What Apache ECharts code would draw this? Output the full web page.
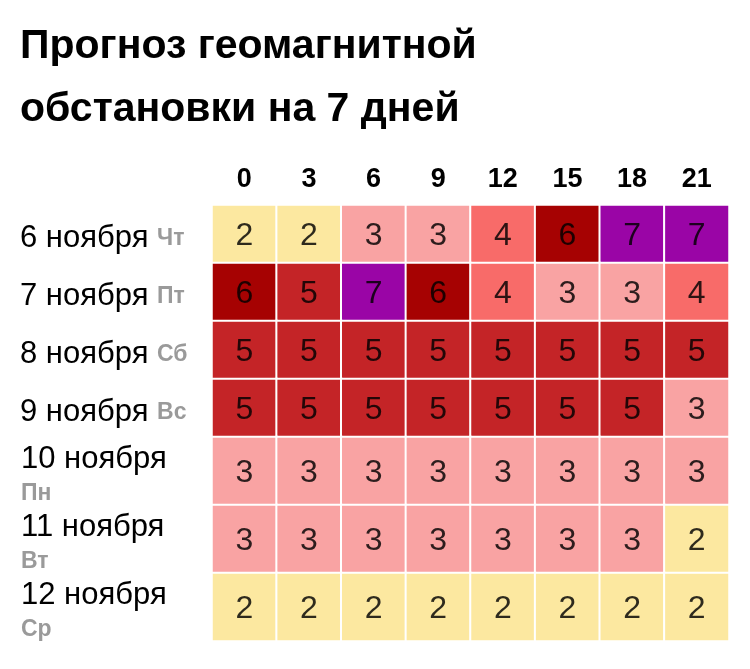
<!DOCTYPE html>
<html><head><meta charset="utf-8">
<script src="https://cdn.jsdelivr.net/npm/echarts@6/dist/echarts.min.js"></script>
<style>html,body{margin:0;padding:0;background:#fff}#c{width:750px;height:669px}</style>
</head><body><div id="c"></div>
<script>
const titleLines = ['Прогноз геомагнитной', 'обстановки на 7 дней'];
const hours = ['0', '3', '6', '9', '12', '15', '18', '21'];
const daysTop = ['6 ноября', '7 ноября', '8 ноября', '9 ноября'];
const weekdaysTop = ['Чт', 'Пт', 'Сб', 'Вс'];
const daysBottom = ['10 ноября', '11 ноября', '12 ноября'];
const weekdaysBottom = ['Пн', 'Вт', 'Ср'];
const row6 = [2, 2, 3, 3, 4, 6, 7, 7];
const row7 = [6, 5, 7, 6, 4, 3, 3, 4];
const row8 = [5, 5, 5, 5, 5, 5, 5, 5];
const row9 = [5, 5, 5, 5, 5, 5, 5, 3];
const row10 = [3, 3, 3, 3, 3, 3, 3, 3];
const row11 = [3, 3, 3, 3, 3, 3, 3, 2];
const row12 = [2, 2, 2, 2, 2, 2, 2, 2];
const levelColors = {2: '#fce8a0', 3: '#f9a3a3', 4: '#f86b69', 5: '#c42427', 6: '#a60202', 7: '#9a05a6'};

const topRows = [row6, row7, row8, row9];
const bottomRows = [row10, row11, row12];
function toData(rows) {
  const d = [];
  rows.forEach((r, i) => r.forEach((v, j) => d.push([j, i, v])));
  return d;
}
const chart = echarts.init(document.getElementById('c'), null, {renderer: 'canvas'});
const FONT = '"Liberation Sans", Arial, sans-serif';
const pieces = Object.keys(levelColors).map(k => ({value: +k, color: levelColors[k]}));
const cellLabel = {show: true, formatter: p => p.value[2], fontFamily: FONT, fontSize: 32, color: 'rgba(0,0,0,0.82)', offset: [0, 2]};
const itemStyle = {borderColor: '#fff', borderWidth: 2};
const rich = {
  d: {fontFamily: FONT, fontSize: 31, color: '#000', lineHeight: 34},
  w: {fontFamily: FONT, fontSize: 23, fontWeight: 'bold', color: '#9a9a9a', lineHeight: 34}
};
chart.setOption({
  animation: false,
  title: {
    text: titleLines.join('\n'), left: 15, top: 10,
    textStyle: {fontFamily: FONT, fontSize: 41, fontWeight: 'bold', color: '#000', lineHeight: 63}
  },
  grid: [
    {left: 212, right: 21, top: 205, height: 232},
    {left: 212, right: 21, top: 437, height: 204}
  ],
  xAxis: [
    {type: 'category', data: hours, gridIndex: 0, position: 'top',
     axisLine: {show: false}, axisTick: {show: false}, splitLine: {show: false},
     axisLabel: {fontFamily: FONT, fontSize: 27, fontWeight: 'bold', color: '#000', margin: 12}},
    {type: 'category', data: hours, gridIndex: 1, show: false}
  ],
  yAxis: [
    {type: 'category', data: daysTop, gridIndex: 0, inverse: true,
     axisLine: {show: false}, axisTick: {show: false},
     axisLabel: {align: 'left', margin: 192, padding: [9, 0, 0, 0],
       formatter: (v, i) => '{d|' + v + ' }{w|' + weekdaysTop[i] + '}', rich: rich}},
    {type: 'category', data: daysBottom, gridIndex: 1, inverse: true,
     axisLine: {show: false}, axisTick: {show: false},
     axisLabel: {align: 'left', margin: 191, padding: [11, 0, 0, 0],
       formatter: (v, i) => '{d|' + v + '}\n{w|' + weekdaysBottom[i] + '}', rich: rich}}
  ],
  visualMap: {type: 'piecewise', show: false, seriesIndex: [0, 1], dimension: 2, pieces: pieces},
  series: [
    {type: 'heatmap', xAxisIndex: 0, yAxisIndex: 0, data: toData(topRows), label: cellLabel, itemStyle: itemStyle},
    {type: 'heatmap', xAxisIndex: 1, yAxisIndex: 1, data: toData(bottomRows), label: cellLabel, itemStyle: itemStyle}
  ]
});
</script></body></html>
